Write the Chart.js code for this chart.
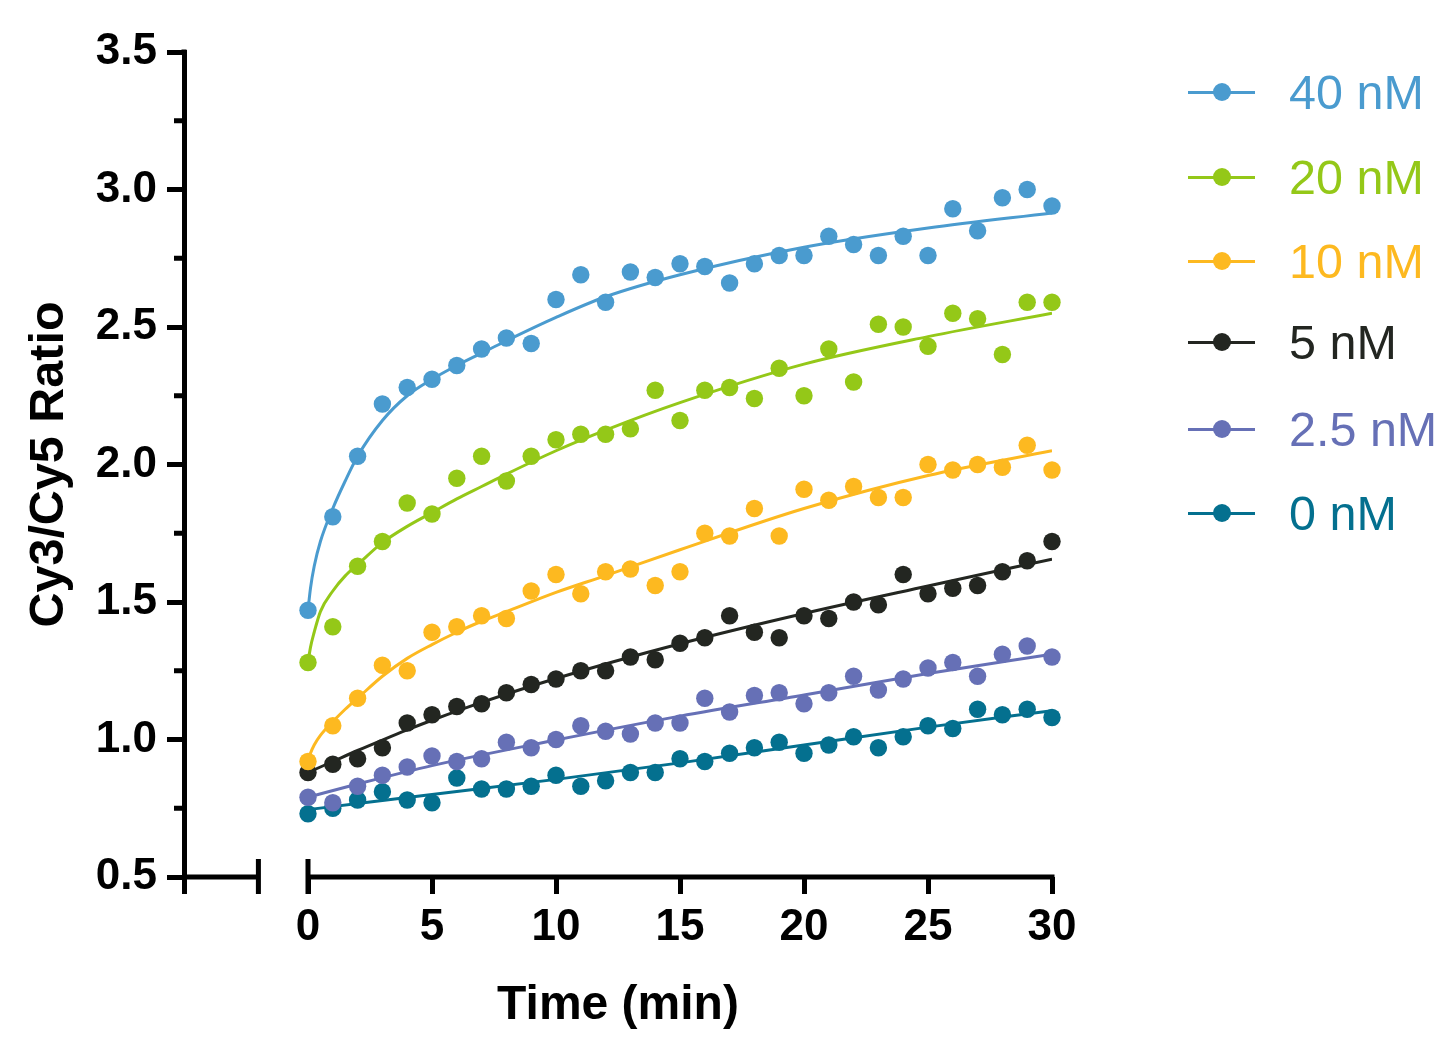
<!DOCTYPE html>
<html>
<head>
<meta charset="utf-8">
<script src="https://cdn.jsdelivr.net/npm/chart.js@4.4.1/dist/chart.umd.min.js"></script>
<style>
  html, body { margin: 0; padding: 0; background: #fff; }
  #wrap { position: relative; width: 1455px; height: 1055px; overflow: hidden; }
  #chart { position: absolute; left: 0; top: 0; }
  #legend { position: absolute; left: 0; top: 0; width: 1455px; height: 1055px; pointer-events: none;
            font-family: "Liberation Sans", Arial, sans-serif; }
  .item { position: absolute; left: 1188px; height: 60px; display: flex; align-items: center; }
  .swatch { position: relative; width: 67px; height: 60px; }
  .swatch .ln { position: absolute; left: 0; right: 0; top: 28.5px; height: 3px; }
  .swatch .dot { position: absolute; left: 25px; top: 21px; width: 18px; height: 18px; border-radius: 50%; }
  .label { margin-left: 34px; font-size: 48.5px; line-height: 1; white-space: nowrap; }
</style>
</head>
<body>
<div id="wrap">
  <canvas id="chart" width="1455" height="1055"></canvas>
  <div id="legend"></div>
</div>
<script>
// measured time points (min)
const times = [0,1,2,3,4,5,6,7,8,9,10,11,12,13,14,15,16,17,18,19,20,21,22,23,24,25,26,27,28,29,30];

const seriesNames = ['40 nM', '20 nM', '10 nM', '5 nM', '2.5 nM', '0 nM'];
const seriesColors = ['#4a9bcf', '#94c818', '#fdb920', '#232621', '#6670b6', '#04708f'];

// Cy3/Cy5 ratio
const ratio40 = [1.47,1.81,2.03,2.22,2.28,2.31,2.36,2.42,2.46,2.44,2.60,2.69,2.59,2.70,2.68,2.73,2.72,2.66,2.73,2.76,2.76,2.83,2.80,2.76,2.83,2.76,2.93,2.85,2.97,3.00,2.94];
const ratio20 = [1.28,1.41,1.63,1.72,1.86,1.82,1.95,2.03,1.94,2.03,2.09,2.11,2.11,2.13,2.27,2.16,2.27,2.28,2.24,2.35,2.25,2.42,2.30,2.51,2.50,2.43,2.55,2.53,2.40,2.59,2.59];
const ratio10 = [0.92,1.05,1.15,1.27,1.25,1.39,1.41,1.45,1.44,1.54,1.60,1.53,1.61,1.62,1.56,1.61,1.75,1.74,1.84,1.74,1.91,1.87,1.92,1.88,1.88,2.00,1.98,2.00,1.99,2.07,1.98];
const ratio5 = [0.88,0.91,0.93,0.97,1.06,1.09,1.12,1.13,1.17,1.20,1.22,1.25,1.25,1.30,1.29,1.35,1.37,1.45,1.39,1.37,1.45,1.44,1.50,1.49,1.60,1.53,1.55,1.56,1.61,1.65,1.72];
const ratio2_5 = [0.79,0.77,0.83,0.87,0.90,0.94,0.92,0.93,0.99,0.97,1.00,1.05,1.03,1.02,1.06,1.06,1.15,1.10,1.16,1.17,1.13,1.17,1.23,1.18,1.22,1.26,1.28,1.23,1.31,1.34,1.30];
const ratio0 = [0.73,0.75,0.78,0.81,0.78,0.77,0.86,0.82,0.82,0.83,0.87,0.83,0.85,0.88,0.88,0.93,0.92,0.95,0.97,0.99,0.95,0.98,1.01,0.97,1.01,1.05,1.04,1.11,1.09,1.11,1.08];

// fitted curves, points
const fitTimeFast = [0,0.1,0.25,0.5,1,1.5,2,3,4,5,6,7,8,10,12,15,20,25,30];
const fit40 = [1.47,1.55,1.63,1.72,1.84,1.94,2.03,2.16,2.25,2.31,2.36,2.405,2.45,2.535,2.61,2.69,2.79,2.86,2.915];
const fit20 = [1.28,1.335,1.39,1.465,1.54,1.595,1.636,1.716,1.775,1.825,1.875,1.92,1.965,2.05,2.125,2.225,2.365,2.465,2.55];
const fit10 = [0.92,0.95,0.98,1.015,1.065,1.11,1.15,1.23,1.295,1.345,1.39,1.43,1.465,1.535,1.596,1.69,1.84,1.96,2.05];
const fitTime5 = [0,1,2,3,4,5,7,10,15,20,25,30];
const fit5 = [0.88,0.92,0.96,0.998,1.035,1.07,1.135,1.222,1.348,1.458,1.558,1.656];
const fitTime2_5 = [0,2,5,10,15,20,25,30];
const fit2_5 = [0.79,0.838,0.905,0.998,1.085,1.162,1.24,1.31];
const fitTime0 = [0,5,10,15,20,25,30];
const fit0 = [0.745,0.80,0.855,0.915,0.98,1.045,1.105];

const yTicks = [0.5, 1.0, 1.5, 2.0, 2.5, 3.0, 3.5];
const yMinorTicks = [0.75, 1.25, 1.75, 2.25, 2.75, 3.25];
const xMin = -5, xMax = 30, breakFrom = -2, breakTo = 0;

const ratios = [ratio40, ratio20, ratio10, ratio5, ratio2_5, ratio0];
const fitTimes = [fitTimeFast, fitTimeFast, fitTimeFast, fitTime5, fitTime2_5, fitTime0];
const fits = [fit40, fit20, fit10, fit5, fit2_5, fit0];

const FONT = "'Liberation Sans', Arial, Helvetica, sans-serif";
Chart.defaults.font.family = FONT;
Chart.defaults.color = '#000';

// datasets listed first are drawn on top
const datasets = [];
seriesNames.forEach((name, i) => {
    datasets.push({
        label: name,
        data: times.map((t, k) => ({x: t, y: ratios[i][k]})),
        showLine: false,
        pointRadius: 8.7,
        pointHoverRadius: 8.7,
        pointBorderWidth: 0,
        backgroundColor: seriesColors[i],
        borderColor: seriesColors[i],
        clip: false
    });
    datasets.push({
        label: name + ' fit',
        data: fitTimes[i].map((t, k) => ({x: t, y: fits[i][k]})),
        showLine: true,
        fill: false,
        pointRadius: 0,
        borderWidth: 3,
        borderColor: seriesColors[i],
        cubicInterpolationMode: 'monotone'
    });
});

// broken x axis + minor y ticks
const axisExtras = {
    id: 'axisExtras',
    afterDraw(chart) {
        const {ctx, chartArea, scales: {x, y}} = chart;
        const base = chartArea.bottom;
        ctx.save();
        ctx.strokeStyle = '#000';
        ctx.lineWidth = 5;
        ctx.beginPath();
        ctx.moveTo(x.getPixelForValue(xMin), base);
        ctx.lineTo(x.getPixelForValue(breakFrom), base);
        ctx.moveTo(x.getPixelForValue(breakTo), base);
        ctx.lineTo(x.getPixelForValue(xMax) + 2.5, base);
        [breakFrom, breakTo].forEach(v => {
            const px = x.getPixelForValue(v);
            ctx.moveTo(px, base - 18);
            ctx.lineTo(px, base + 17);
        });
        yMinorTicks.forEach(v => {
            const py = y.getPixelForValue(v);
            ctx.moveTo(chartArea.left - 10, py);
            ctx.lineTo(chartArea.left, py);
        });
        // close the top of the y axis over the last tick
        ctx.moveTo(chartArea.left, chartArea.top - 2.5);
        ctx.lineTo(chartArea.left, chartArea.top + 2);
        ctx.stroke();
        ctx.restore();
    }
};

new Chart(document.getElementById('chart'), {
    type: 'line',
    data: {datasets: datasets},
    plugins: [axisExtras],
    options: {
        responsive: false,
        animation: false,
        events: [],
        layout: {padding: {left: 19, top: 52, right: 403, bottom: 0}},
        plugins: {legend: {display: false}, tooltip: {enabled: false}},
        scales: {
            x: {
                type: 'linear',
                min: xMin,
                max: xMax,
                afterFit: (scale) => { scale.height = 178; },
                ticks: {
                    stepSize: 5,
                    autoSkip: false,
                    maxRotation: 0,
                    padding: 7,
                    color: '#000',
                    font: {size: 44, weight: 'bold'},
                    callback: (v) => v < 0 ? '' : v
                },
                grid: {display: true, drawOnChartArea: false, drawTicks: true, tickLength: 17, tickWidth: 5, tickColor: '#000'},
                border: {display: false},
                title: {display: true, text: 'Time (min)', color: '#000', font: {size: 48, weight: 'bold'}, padding: {top: 0, bottom: 20}}
            },
            y: {
                type: 'linear',
                min: 0.5,
                max: 3.5,
                afterFit: (scale) => { scale.width = 165; },
                afterBuildTicks: (scale) => { scale.ticks = yTicks.map(v => ({value: v})); },
                ticks: {
                    padding: 10,
                    color: '#000',
                    font: {size: 44, weight: 'bold'},
                    callback: (v) => Number(v).toFixed(1)
                },
                grid: {display: true, drawOnChartArea: false, drawTicks: true, tickLength: 17, tickWidth: 5, tickColor: '#000'},
                border: {display: true, width: 5, color: '#000'},
                title: {display: true, text: 'Cy3/Cy5 Ratio', color: '#000', font: {size: 48.5, weight: 'bold'}, padding: {top: 2, bottom: 0}}
            }
        }
    }
});

// legend: line with a dot, coloured label
const legendCenters = [92, 177, 261, 342, 429, 513];
const legend = document.getElementById('legend');
seriesNames.forEach((name, i) => {
    const item = document.createElement('div');
    item.className = 'item';
    item.style.top = (legendCenters[i] - 30) + 'px';
    item.innerHTML = '<div class="swatch"><div class="ln" style="background:' + seriesColors[i] + '"></div>' +
        '<div class="dot" style="background:' + seriesColors[i] + '"></div></div>' +
        '<span class="label" style="color:' + seriesColors[i] + '">' + name + '</span>';
    legend.appendChild(item);
});
</script>
</body>
</html>
